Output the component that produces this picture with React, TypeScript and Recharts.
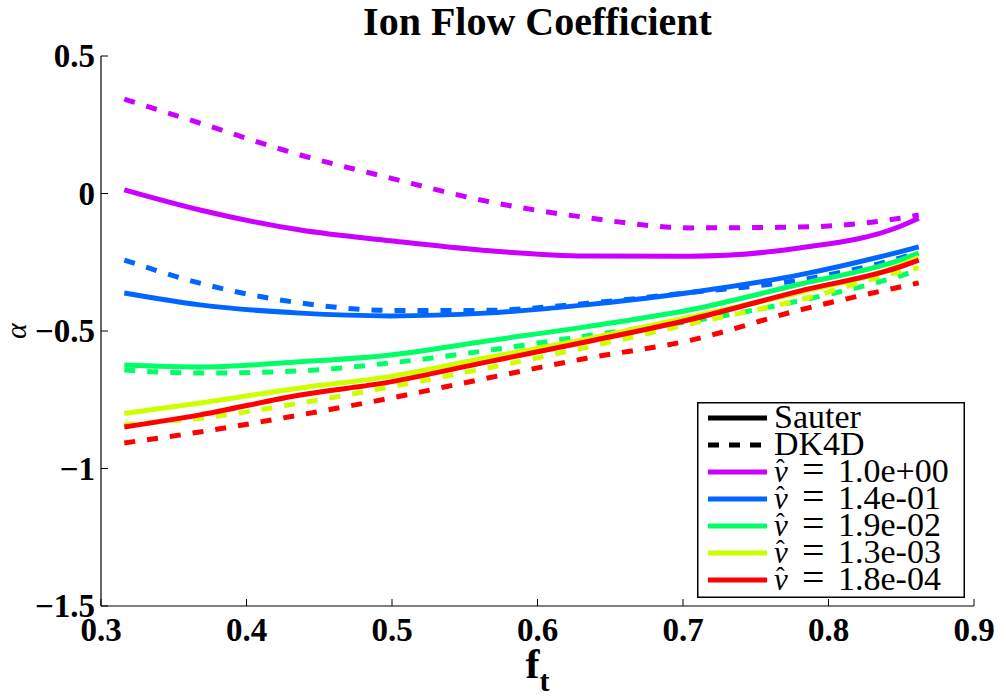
import React from "react";
import { LineChart, Line, XAxis, YAxis, Legend } from "recharts";

// f_t sample positions
const ft = [0.316, 0.368, 0.437, 0.499, 0.564, 0.633, 0.705, 0.78, 0.849, 0.862];

// Sauter (solid) / DK4D (dashed) for each collisionality
const sauter1 = [0.013, -0.06, -0.133, -0.172, -0.207, -0.227, -0.228, -0.198, -0.12, -0.09];
const dk4d1 = [0.343, 0.256, 0.14, 0.056, -0.027, -0.087, -0.125, -0.122, -0.09, -0.078];
const sauter2 = [-0.362, -0.405, -0.435, -0.445, -0.435, -0.405, -0.36, -0.296, -0.212, -0.194];
const dk4d2 = [-0.242, -0.326, -0.398, -0.425, -0.425, -0.4, -0.36, -0.315, -0.235, -0.215];
const sauter3 = [-0.624, -0.631, -0.612, -0.587, -0.537, -0.485, -0.423, -0.33, -0.242, -0.217];
const dk4d3 = [-0.642, -0.653, -0.645, -0.616, -0.572, -0.518, -0.465, -0.39, -0.3, -0.278];
const sauter4 = [-0.8, -0.762, -0.707, -0.665, -0.598, -0.53, -0.449, -0.36, -0.262, -0.232];
const dk4d4 = [-0.84, -0.817, -0.762, -0.703, -0.636, -0.56, -0.474, -0.387, -0.285, -0.27];
const sauter5 = [-0.849, -0.805, -0.733, -0.685, -0.614, -0.54, -0.458, -0.355, -0.267, -0.242];
const dk4d5 = [-0.907, -0.867, -0.805, -0.744, -0.673, -0.6, -0.534, -0.424, -0.34, -0.325];

const nuLabels = ["1.0e+00", "1.4e-01", "1.9e-02", "1.3e-03", "1.8e-04"];
const colors = ["#cc00ff", "#0066ff", "#00ff66", "#ccff00", "#ff0000"];
const xTicks = [0.3, 0.4, 0.5, 0.6, 0.7, 0.8, 0.9];
const yTicks = [-1.5, -1, -0.5, 0, 0.5];

const sauter = [sauter1, sauter2, sauter3, sauter4, sauter5];
const dk4d = [dk4d1, dk4d2, dk4d3, dk4d4, dk4d5];

const chartData = ft.map((x, i) => {
  const row: Record<string, number> = { x };
  sauter.forEach((s, k) => (row["s" + k] = s[i]));
  dk4d.forEach((d, k) => (row["d" + k] = d[i]));
  return row;
});

const FONT = "Liberation Serif, DejaVu Serif, serif";

const fmtY = (v: number) => (v < 0 ? "\u2212" + String(Math.abs(v)) : String(v));

function XTick({ x, y, payload }: any) {
  return (
    <g>
      <line x1={x} x2={x} y1={y} y2={y - 7} stroke="#000" strokeWidth={1} />
      <text x={x} y={y + 35} textAnchor="middle" fontFamily={FONT} fontWeight="bold" fontSize={33} fill="#000">
        {payload.value.toFixed(1)}
      </text>
    </g>
  );
}

function YTick({ x, y, payload }: any) {
  return (
    <g>
      <line x1={x} x2={x + 7} y1={y} y2={y} stroke="#000" strokeWidth={1} />
      <text x={x - 6} y={y + 11} textAnchor="end" fontFamily={FONT} fontWeight="bold" fontSize={33} fill="#000">
        {fmtY(payload.value)}
      </text>
    </g>
  );
}

function LegendBox() {
  const rowH = 27;
  return (
    <svg width={268} height={196} style={{ display: "block" }} fontFamily={FONT} fontWeight="normal">
      <rect x={0.75} y={0.75} width={266.5} height={194.5} fill="#fff" stroke="#000" strokeWidth={1.5} />
      <line x1={11} x2={70} y1={16} y2={16} stroke="#000" strokeWidth={5} />
      <text x={77} y={26} fontFamily={FONT} fontSize={34}>Sauter</text>
      <line x1={11} x2={70} y1={16 + rowH} y2={16 + rowH} stroke="#000" strokeWidth={5} strokeDasharray="11 10" />
      <text x={77} y={26 + rowH} fontFamily={FONT} fontSize={34}>DK4D</text>
      {nuLabels.map((lab, i) => {
        const ly = 16 + rowH * (i + 2);
        const by = 26 + rowH * (i + 2);
        return (
          <g key={lab}>
            <line x1={11} x2={70} y1={ly} y2={ly} stroke={colors[i]} strokeWidth={5} />
            <text x={77} y={by} fontFamily={FONT} fontStyle="italic" fontSize={31}>
              {"\u03BD"}
            </text>
            <text x={79} y={by - 5} fontFamily={FONT} fontSize={26}>
              {"\u02C6"}
            </text>
            <text x={105} y={by + 1} fontFamily={FONT} fontSize={40}>
              =
            </text>
            <text x={141} y={by} fontFamily={FONT} fontSize={34}>
              {lab}
            </text>
          </g>
        );
      })}
    </svg>
  );
}

export default function App() {
  return (
    <div style={{ position: "absolute", left: 0, top: 0, width: 997, height: 698, background: "#fff" }}>
      <div
        style={{
          position: "absolute",
          left: 101,
          width: 873,
          top: 1,
          textAlign: "center",
          fontFamily: FONT,
          fontWeight: "bold",
          fontSize: 40,
          lineHeight: "42px",
        }}
      >
        Ion Flow Coefficient
      </div>
      <LineChart width={997} height={698} data={chartData} margin={{ top: 56, right: 23, bottom: 0, left: 0 }}>
        <XAxis
          dataKey="x"
          type="number"
          domain={[0.3, 0.9]}
          ticks={xTicks}
          tickSize={0}
          tickMargin={0}
          tickLine={false}
          tick={<XTick />}
          height={92}
          axisLine={{ stroke: "#000", strokeWidth: 1.2 }}
          label={{
            content: ({ viewBox }: any) => (
              <text
                x={viewBox.x + viewBox.width / 2}
                y={678}
                textAnchor="middle"
                fontFamily={FONT}
                fontWeight="bold"
                fontSize={42}
              >
                f
                <tspan dy={13} fontSize={30}>t</tspan>
              </text>
            ),
          }}
        />
        <YAxis
          type="number"
          domain={[-1.5, 0.5]}
          ticks={yTicks}
          tickSize={0}
          tickMargin={0}
          tickLine={false}
          tick={<YTick />}
          width={101}
          axisLine={{ stroke: "#000", strokeWidth: 1.2 }}
          label={{
            content: ({ viewBox }: any) => {
              const cy = viewBox.y + viewBox.height / 2;
              return (
                <text
                  x={26}
                  y={cy}
                  transform={`rotate(-90 26 ${cy})`}
                  textAnchor="middle"
                  fontFamily={FONT}
                  fontStyle="italic"
                  fontSize={30}
                >
                  {"\u03B1"}
                </text>
              );
            },
          }}
        />
        <Legend
          layout="horizontal"
          verticalAlign="middle"
          align="center"
          wrapperStyle={{ left: 697, top: 402, width: 268, height: 196 }}
          content={() => <LegendBox />}
        />
        {colors.map((c, k) => [
          <Line
            key={"s" + k}
            type="monotone"
            dataKey={"s" + k}
            stroke={c}
            strokeWidth={5}
            dot={false}
            activeDot={false}
            isAnimationActive={false}
          />,
          <Line
            key={"d" + k}
            type="monotone"
            dataKey={"d" + k}
            stroke={c}
            strokeWidth={5}
            strokeDasharray="11 12"
            dot={false}
            activeDot={false}
            isAnimationActive={false}
          />,
        ])}
      </LineChart>
    </div>
  );
}
